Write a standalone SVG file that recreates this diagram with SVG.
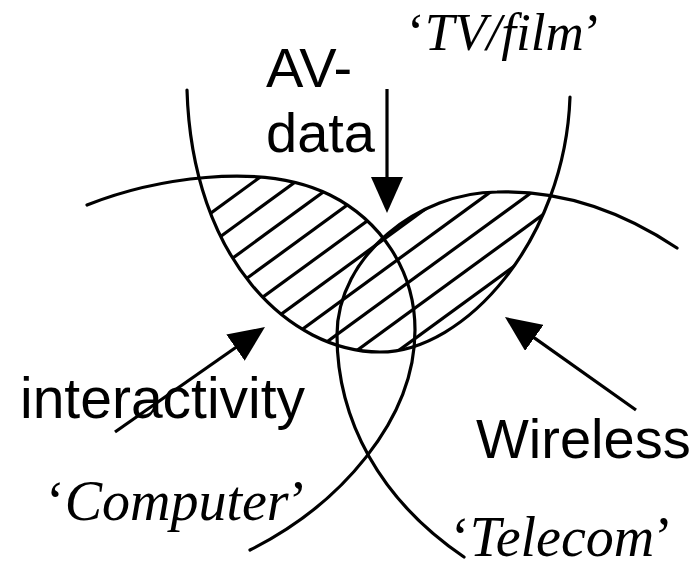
<svg xmlns="http://www.w3.org/2000/svg" width="697" height="563" viewBox="0 0 697 563">
<style>
.curve{fill:none;stroke:#000;stroke-width:3.2;stroke-linecap:round}
.hatch line{stroke:#000;stroke-width:3.2}
.arrow{fill:none;stroke:#000;stroke-width:3.2}
.sans{font-family:"Liberation Sans",Arial,sans-serif;font-size:56px;fill:#000}
.serif{font-family:"Liberation Serif","Times New Roman",serif;font-size:56px;fill:#000}
.it{font-style:italic}
</style>
<defs>
<marker id="head" viewBox="0 0 36 32" refX="16" refY="16" markerWidth="36" markerHeight="32" markerUnits="userSpaceOnUse" orient="auto">
<path d="M0,0 L36,16 L0,32 Z" fill="#000"/>
</marker>
<clipPath id="clipTV">
<path d="M187,90 C192,260 290,352 380,352 C465,352 565,240 570,97 L570,0 L187,0 Z"/>
</clipPath>
<clipPath id="clipCT">
<path d="M87,205 C150,180 260,160 330,195 C380,220 415,270 415,330 C415,420 340,505 250,550 L0,563 L0,205 Z"/>
<path d="M677,248 C620,210 560,190 497,192 C420,192 337,255 337,335 C337,420 380,500 464,557 L697,563 L697,248 Z"/>
</clipPath>
</defs>
<rect width="697" height="563" fill="#fff"/>
<g id="hatch" class="hatch" clip-path="url(#clipTV)">
<g clip-path="url(#clipCT)">
<line x1="150" y1="257.5" x2="620" y2="-85.6"/>
<line x1="150" y1="288" x2="620" y2="-55.1"/>
<line x1="150" y1="318.5" x2="620" y2="-24.6"/>
<line x1="150" y1="349" x2="620" y2="5.9"/>
<line x1="150" y1="379.5" x2="620" y2="36.4"/>
<line x1="150" y1="410" x2="620" y2="66.9"/>
<line x1="150" y1="440.5" x2="620" y2="97.4"/>
<line x1="150" y1="471" x2="620" y2="127.9"/>
<line x1="150" y1="501.5" x2="620" y2="158.4"/>
<line x1="150" y1="532" x2="620" y2="188.9"/>
</g>
</g>
<g id="tvfilm">
<path class="curve" d="M187,90 C192,260 290,352 380,352 C465,352 565,240 570,97"/>
<text class="serif" x="407" y="50" style="font-size:53px">‘<tspan class="it">TV/film</tspan>’</text>
</g>
<g id="computer">
<path class="curve" d="M87,205 C150,180 260,160 330,195 C380,220 415,270 415,330 C415,420 340,505 250,550"/>
<text class="serif" x="46" y="520">‘<tspan class="it">Computer</tspan>’</text>
</g>
<g id="telecom">
<path class="curve" d="M677,248 C620,210 560,190 497,192 C420,192 337,255 337,335 C337,420 380,500 464,557"/>
<text class="serif" x="451" y="556">‘<tspan class="it">Telecom</tspan>’</text>
</g>
<g id="avdata">
<text class="sans" x="266" y="87">AV-</text>
<text class="sans" x="266" y="152">data</text>
</g>
<g id="interactivity">
<text class="sans" x="20" y="418" style="font-size:57px">interactivity</text>
</g>
<g id="wireless">
<text class="sans" x="476" y="458">Wireless</text>
</g>
<g id="connectors">
<path class="arrow" d="M387,89 L387,193" marker-end="url(#head)"/>
<path class="arrow" d="M115,432 L248.6,338.5" marker-end="url(#head)"/>
<path class="arrow" d="M636,410 L521.3,328.6" marker-end="url(#head)"/>
</g>
</svg>
